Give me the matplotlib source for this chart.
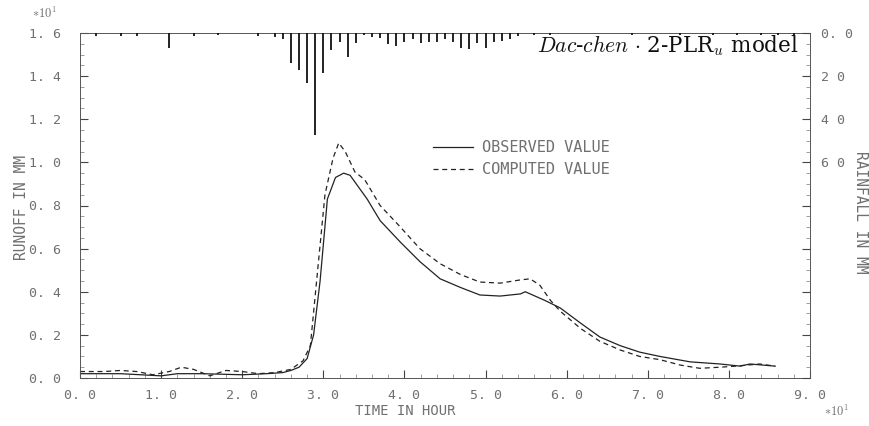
import matplotlib
matplotlib.use("Agg")
import matplotlib.pyplot as plt
from matplotlib.ticker import MultipleLocator, FixedLocator

# ---------------- data ----------------
obs_t = [0, 5, 10, 12, 15, 20, 23, 25, 26, 27, 28, 28.8, 29.6, 30.5, 31.5, 32.5, 33.3,
         35.4, 37, 39.5, 41.9, 44.4, 46.9, 49.3, 51.8, 54.3, 54.9, 56.1, 57.3, 59.2,
         61.7, 64.1, 66.6, 69, 71.5, 75.2, 78.9, 81.4, 82.6, 85.7]
obs_q = [0.02, 0.02, 0.01, 0.02, 0.02, 0.015, 0.02, 0.025, 0.035, 0.05, 0.09, 0.2, 0.45,
         0.83, 0.93, 0.95, 0.94, 0.83, 0.73, 0.63, 0.54, 0.46, 0.42, 0.385, 0.38, 0.39,
         0.40, 0.38, 0.36, 0.325, 0.255, 0.19, 0.15, 0.12, 0.10, 0.075, 0.065, 0.055,
         0.065, 0.055]

cmp_t = [0, 3, 5, 7, 9, 11, 12.5, 14, 16, 18, 20, 22, 24, 26, 27.5, 28.4, 29.3, 30.2,
         31.2, 31.9, 32.7, 33.9, 35.1, 37, 39.5, 41.9, 44.4, 46.9, 49.3, 51.8, 54.3,
         55.5, 56.7, 58, 59.2, 61.7, 64.1, 66.6, 69, 71.5, 74, 76.4, 78.9, 80.8, 83.8,
         85.7]
cmp_q = [0.03, 0.03, 0.035, 0.03, 0.015, 0.03, 0.05, 0.04, 0.01, 0.035, 0.03, 0.02,
         0.025, 0.04, 0.08, 0.15, 0.5, 0.85, 1.02, 1.09, 1.05, 0.955, 0.92, 0.80, 0.70,
         0.60, 0.53, 0.48, 0.445, 0.44, 0.455, 0.46, 0.43, 0.36, 0.31, 0.23, 0.17, 0.13,
         0.10, 0.085, 0.06, 0.045, 0.05, 0.055, 0.065, 0.055]

rain_t = [2, 5, 7, 11, 14, 17, 22, 24, 25, 26, 27, 28, 29, 30, 31, 32, 33, 34, 35, 36,
          37, 38, 39, 40, 41, 42, 43, 44, 45, 46, 47, 48, 49, 50, 51, 52, 53, 54, 56,
          58, 68, 74, 78, 81, 84, 86, 88]
rain_mm = [1.5, 1.5, 1.5, 7, 1.5, 1, 1.5, 2, 3, 14, 17, 23, 47.5, 18.5, 8, 4, 11, 4.5,
           1, 2, 2.5, 5, 6, 4, 3, 4.5, 4, 4, 3, 4, 7, 7.5, 4.5, 7, 4, 3.5, 3, 1.5, 1,
           1, 1, 0.8, 0.8, 0.8, 0.8, 0.8, 0.8]

x_ticks = [0, 10, 20, 30, 40, 50, 60, 70, 80, 90]
x_labels = ["0. 0", "1. 0", "2. 0", "3. 0", "4. 0", "5. 0", "6. 0", "7. 0", "8. 0", "9. 0"]
y_ticks = [0, 0.2, 0.4, 0.6, 0.8, 1.0, 1.2, 1.4, 1.6]
y_labels = ["0. 0", "0. 2", "0. 4", "0. 6", "0. 8", "1. 0", "1. 2", "1. 4", "1. 6"]
r_ticks = [0, 20, 40, 60, 80, 100, 120, 140, 160]
r_labels = ["0. 0", "2 0", "4 0", "6 0", "", "", "", "", ""]

# ---------------- style ----------------
mono = "DejaVu Sans Mono"
gray = "#707070"
plt.rcParams["mathtext.fontset"] = "cm"

fig = plt.figure(figsize=(8.69, 4.26), dpi=100)
ax = fig.add_axes([80/869, 1-378/426, 730/869, 345/426])

ax.plot(obs_t, obs_q, color="#222222", lw=0.9, ls="-", label="OBSERVED VALUE")
ax.plot(cmp_t, cmp_q, color="#222222", lw=0.9, ls=(0, (4, 3)), label="COMPUTED VALUE")

ax.set_xlim(0, 90)
ax.set_ylim(0, 1.6)
ax.set_xticks(x_ticks)
ax.set_xticklabels(x_labels, family=mono, fontsize=9.5, color=gray)
ax.set_yticks(y_ticks)
ax.set_yticklabels(y_labels, family=mono, fontsize=9.5, color=gray)
ax.yaxis.set_minor_locator(MultipleLocator(0.05))
ax.xaxis.set_minor_locator(MultipleLocator(2))
ax.tick_params(axis="both", which="major", direction="in", length=6, width=0.8,
               color="#444444")
ax.tick_params(axis="y", pad=14)
ax.tick_params(axis="x", pad=8)
ax.tick_params(axis="both", which="minor", direction="in", length=3, width=0.5,
               color="#777777")
for s in ax.spines.values():
    s.set_linewidth(0.7)
    s.set_color("#555555")

# rainfall on twin axis, hanging from top
ax2 = ax.twinx()
ax2.vlines(rain_t, 0, rain_mm, color="#111111", lw=1.3)
ax2.set_ylim(160, 0)
ax2.yaxis.set_major_locator(FixedLocator(r_ticks))
ax2.set_yticklabels(r_labels, family=mono, fontsize=9.5, color=gray)
ax2.yaxis.set_minor_locator(MultipleLocator(5))
ax2.tick_params(axis="y", which="major", direction="in", length=6, width=0.8,
                color="#444444", pad=8)
ax2.tick_params(axis="y", which="minor", direction="in", length=3, width=0.5,
                color="#777777")
for s in ax2.spines.values():
    s.set_visible(False)

leg = ax.legend(loc="center left", bbox_to_anchor=(0.465, 0.635), frameon=False,
                prop={"family": mono, "size": 11}, handlelength=2.6,
                handletextpad=0.6, labelspacing=0.45)
for t in leg.get_texts():
    t.set_color(gray)

ax.text(0.985, 0.962, r"$Dac$-$chen$ $\cdot$ 2-PLR$_u$ model",
        transform=ax.transAxes, ha="right", va="center", fontsize=15.5,
        family="DejaVu Serif", color="#111111")

fig.text(22/869, 1-208/426, "RUNOFF IN MM", rotation=90, ha="center", va="center",
         family=mono, fontsize=10.5, color=gray)
fig.text(860/869, 1-212/426, "RAINFALL IN MM", rotation=270, ha="center", va="center",
         family=mono, fontsize=10.5, color=gray)
fig.text(405/869, 1-411/426, "TIME IN HOUR", ha="center", va="center",
         family=mono, fontsize=10, color=gray)
fig.text(44/869, 1-13/426, r"$*10^1$", ha="center", va="center", fontsize=9, color=gray)
fig.text(836/869, 1-411/426, r"$*10^1$", ha="center", va="center", fontsize=9, color=gray)

fig.savefig("out.png", dpi=100, facecolor="white")
